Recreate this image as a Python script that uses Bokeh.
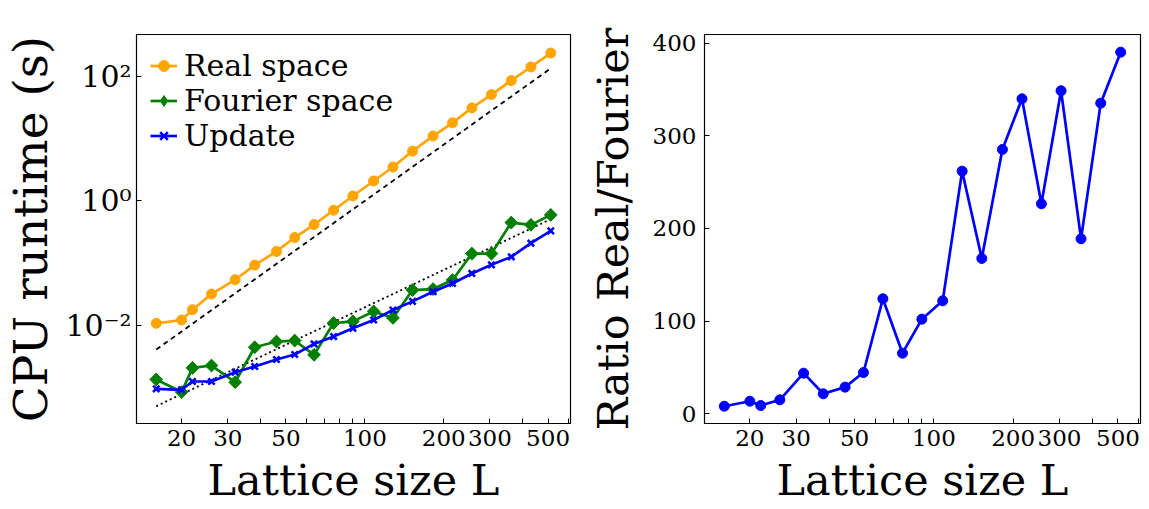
import math
from bokeh.plotting import figure
from bokeh.layouts import row
from bokeh.models import Range1d, FixedTicker
from bokeh.embed import file_html
from bokeh.resources import INLINE

# ---------------- data ----------------
L = [16, 20, 22, 26, 32, 38, 46, 54, 64, 76, 90, 108, 128, 152, 182, 216, 256, 304, 362, 430, 512]
real = [0.0109, 0.0123, 0.0180, 0.0321, 0.0545, 0.0935, 0.155, 0.259, 0.418, 0.709, 1.20,
        2.09, 3.5, 6.3, 11.0, 17.9, 31.1, 50.9, 85.3, 141, 236]
fourier = [1.37e-3, 8.6e-4, 2.1e-3, 2.29e-3, 1.24e-3, 4.5e-3, 5.55e-3, 5.75e-3, 3.4e-3, 0.0110,
           0.0117, 0.0169, 0.0133, 0.0372, 0.0386, 0.0538, 0.143, 0.143, 0.45, 0.413, 0.597]
update = [9.7e-4, 9.35e-4, 1.27e-3, 1.27e-3, 1.79e-3, 2.21e-3, 2.86e-3, 3.44e-3, 5.09e-3, 6.67e-3,
          9.06e-3, 0.0123, 0.0178, 0.0245, 0.035, 0.0475, 0.0687, 0.0946, 0.127, 0.21, 0.331]
ratio = [7.9, 13.3, 8.6, 14.8, 43.6, 21.3, 28.5, 44.3, 124, 65.2, 102, 121.8, 262, 167.6,
         285.4, 340.2, 226.7, 348.9, 188.9, 335.5, 390.6]
# guide lines (end points)
guide_L = [16, 512]
guide_cubic = [0.00413, 134]
guide_quad = [5.1e-4, 0.51]

x_ticks = [20, 30, 40, 50, 60, 70, 80, 90, 100, 200, 300, 400, 500, 600]
x_tick_labels = {20: "20", 30: "30", 50: "50", 100: "100", 200: "200", 300: "300", 500: "500"}
y1_ticks = [0.01, 1, 100]
y1_tick_labels = {0.01: "10\u207b\u00b2", 1: "10\u2070", 100: "10\u00b2"}
y2_ticks = [0, 100, 200, 300, 400]

FONT = "DejaVu Serif"
ORANGE = "#FFA500"
GREEN = "#008000"
BLUE = "#0000FF"
LW = 2.7

lo, hi = math.log10(L[0]), math.log10(L[-1])
span = hi - lo
x_lo, x_hi = 10 ** (lo - 0.05 * span), 10 ** (hi + 0.05 * span)


def style(p):
    p.outline_line_color = "black"
    p.outline_line_width = 1.2
    p.xgrid.visible = False
    p.ygrid.visible = False
    p.background_fill_color = "white"
    p.border_fill_color = "white"
    for ax in p.axis:
        ax.axis_line_color = None
        ax.major_tick_in = 5
        ax.major_tick_out = 0
        ax.minor_tick_line_color = None
        ax.major_tick_line_color = "black"
        ax.major_tick_line_width = 1
        ax.major_label_text_font = FONT
        ax.major_label_text_color = "black"
        ax.axis_label_text_font = FONT
        ax.axis_label_text_font_style = "normal"
        ax.axis_label_text_color = "black"
    p.xaxis.ticker = FixedTicker(ticks=x_ticks)
    p.xaxis.major_label_overrides = {t: x_tick_labels.get(t, "") for t in x_ticks}
    p.xaxis.major_label_text_font_size = "23px"
    p.xaxis.major_label_standoff = 6
    p.xaxis.axis_label = "Lattice size L"
    p.xaxis.axis_label_text_font_size = "43px"
    p.xaxis.axis_label_standoff = 6


# ---------------- left panel ----------------
p1 = figure(width=580, height=509, x_axis_type="log", y_axis_type="log",
            x_range=Range1d(x_lo, x_hi), y_range=Range1d(10 ** -3.57, 10 ** 2.67),
            output_backend="svg", toolbar_location=None,
            min_border_left=133, min_border_right=10, min_border_top=33, min_border_bottom=86)
p1.title.visible = False
style(p1)
p1.yaxis.ticker = FixedTicker(ticks=y1_ticks)
p1.yaxis.major_label_overrides = y1_tick_labels
p1.yaxis.major_label_text_font_size = "30px"
p1.yaxis.major_label_standoff = 5
p1.yaxis.axis_label = "CPU runtime (s)"
p1.yaxis.axis_label_text_font_size = "47px"
p1.yaxis.axis_label_standoff = 4

p1.line(guide_L, guide_cubic, line_color="black", line_width=1.8, line_dash="5 4")
p1.line(guide_L, guide_quad, line_color="black", line_width=1.8, line_dash="2 3")

p1.line(L, real, line_color=ORANGE, line_width=LW, legend_label="Real space")
p1.scatter(L, real, marker="circle", size=10, color=ORANGE, legend_label="Real space")
p1.line(L, fourier, line_color=GREEN, line_width=LW, legend_label="Fourier space")
# diamond glyph (used for the legend), fully covered by the rotated squares drawn on top
p1.scatter(L, fourier, marker="diamond", size=12, color=GREEN, legend_label="Fourier space")
p1.scatter(L, fourier, marker="square", angle=math.pi / 4, size=9, color=GREEN)
p1.line(L, update, line_color=BLUE, line_width=LW, legend_label="Update")
p1.scatter(L, update, marker="x", size=9, line_color=BLUE, line_width=2.6, legend_label="Update")

leg = p1.legend[0]
leg.location = "top_left"
leg.border_line_color = None
leg.background_fill_alpha = 0
leg.label_text_font = FONT
leg.label_text_font_size = "30px"
leg.label_text_color = "black"
leg.glyph_width = 27
leg.glyph_height = 35
leg.label_height = 35
leg.spacing = 0
leg.padding = 10
leg.margin = 14
leg.label_standoff = 7

# ---------------- right panel ----------------
p2 = figure(width=569, height=509, x_axis_type="log",
            x_range=Range1d(x_lo, x_hi), y_range=Range1d(-10.8, 409.7),
            output_backend="svg", toolbar_location=None,
            min_border_left=124, min_border_right=9, min_border_top=34, min_border_bottom=86)
p2.title.visible = False
style(p2)
p2.yaxis.ticker = FixedTicker(ticks=y2_ticks)
p2.yaxis.major_label_text_font_size = "23px"
p2.yaxis.major_label_standoff = 8
p2.yaxis.axis_label = "Ratio Real/Fourier"
p2.yaxis.axis_label_text_font_size = "43px"
p2.yaxis.axis_label_standoff = 12

p2.line(L, ratio, line_color=BLUE, line_width=LW)
p2.scatter(L, ratio, marker="circle", size=10, color=BLUE)

layout = row(p1, p2, spacing=0)
open("out.html", "w").write(file_html(layout, INLINE))
